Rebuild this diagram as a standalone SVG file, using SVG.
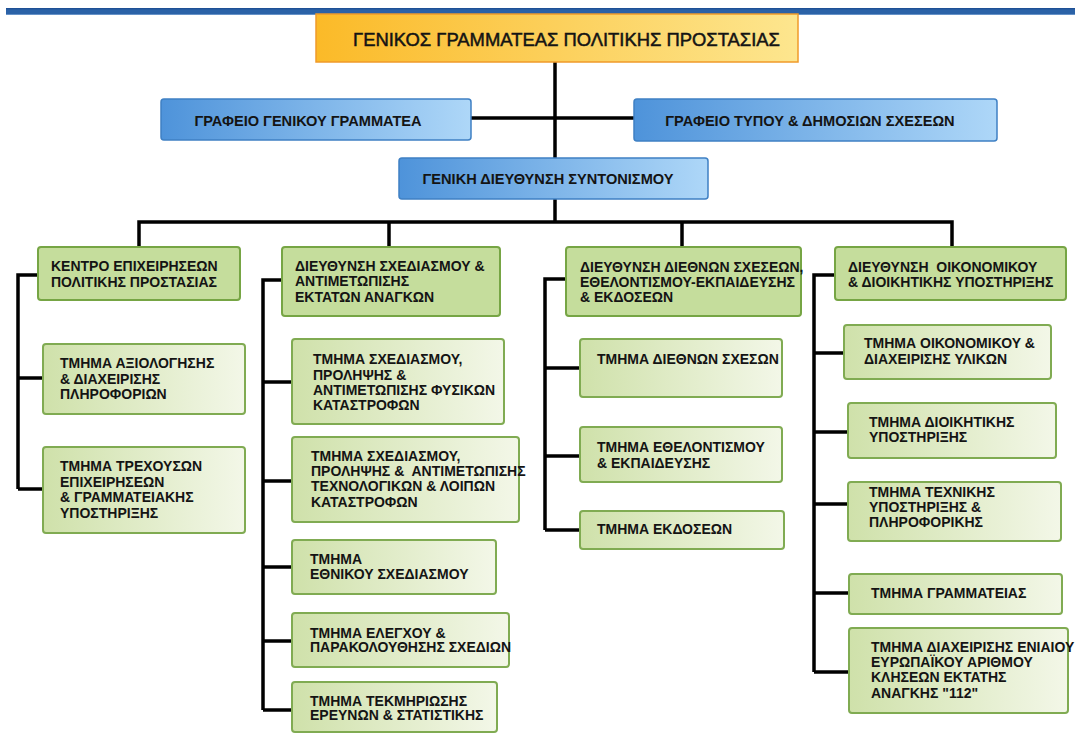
<svg xmlns="http://www.w3.org/2000/svg" width="1075" height="734" viewBox="0 0 1075 734">
<defs>
<linearGradient id="gOrange" x1="0" y1="0" x2="1" y2="0"><stop offset="0" stop-color="#fbba28"/><stop offset="1" stop-color="#fde68f"/></linearGradient>
<linearGradient id="gBlue" x1="0" y1="0" x2="1" y2="0"><stop offset="0" stop-color="#4e93da"/><stop offset="1" stop-color="#aed7f8"/></linearGradient>
<linearGradient id="gGreen" x1="0" y1="0" x2="1" y2="0"><stop offset="0" stop-color="#cfe1aa"/><stop offset="1" stop-color="#f3f7e8"/></linearGradient>
<linearGradient id="gBar" x1="0" y1="0" x2="0" y2="1"><stop offset="0" stop-color="#1b4b90"/><stop offset="0.3" stop-color="#2b62a7"/><stop offset="0.8" stop-color="#2b62a7"/><stop offset="1" stop-color="#86acd9"/></linearGradient>
</defs>
<style>
.t{font-family:"Liberation Sans",Arial,sans-serif;font-weight:bold;font-size:14px;fill:#141414}
.tb{font-size:14.6px}
.conn path{stroke:#000;fill:none;stroke-width:3.5}
.orange{fill:url(#gOrange);stroke:#f09a2a;stroke-width:1.5}
.blue{fill:url(#gBlue);stroke:#3f80c4;stroke-width:1.5}
.l2{fill:#c5dd9c;stroke:#76a544;stroke-width:2}
.l3{fill:url(#gGreen);stroke:#80ab52;stroke-width:2}
</style>
<rect x="6" y="8" width="1069" height="7" fill="url(#gBar)"/>
<g class="conn" id="connectors">
<path d="M555 62V158"/>
<path d="M471 118H634"/>
<path d="M555 199V222"/>
<path d="M139 247V222H952V247"/>
<path d="M389 222V247"/>
<path d="M682 222V247"/>
<path d="M38 275H18V489"/>
<path d="M18 378H43"/>
<path d="M18 489H43"/>
<path d="M282 280H263V710"/>
<path d="M263 382H292"/>
<path d="M263 481H292"/>
<path d="M263 567H292"/>
<path d="M263 641H292"/>
<path d="M263 710H292"/>
<path d="M566 279H545V530"/>
<path d="M545 368H580"/>
<path d="M545 456H580"/>
<path d="M545 530H580"/>
<path d="M835 275H814V672"/>
<path d="M814 353H844"/>
<path d="M814 432H848"/>
<path d="M814 504H848"/>
<path d="M814 593H849"/>
<path d="M814 672H849"/>
</g>
<g id="gen-gram">
<rect class="orange" x="316" y="14" width="482" height="48"/>
<text class="t" x="353" y="46" style="font-weight:normal;font-size:19px;stroke:#141414;stroke-width:0.5" textLength="427" lengthAdjust="spacingAndGlyphs">ΓΕΝΙΚΟΣ ΓΡΑΜΜΑΤΕΑΣ ΠΟΛΙΤΙΚΗΣ ΠΡΟΣΤΑΣΙΑΣ</text>
</g>
<g id="grafeio-gg">
<rect class="blue" x="161" y="99" width="310" height="41" rx="3"/>
<text class="t tb" x="308" y="126" text-anchor="middle">ΓΡΑΦΕΙΟ ΓΕΝΙΚΟΥ ΓΡΑΜΜΑΤΕΑ</text>
</g>
<g id="grafeio-typou">
<rect class="blue" x="634" y="99" width="363" height="42" rx="3"/>
<text class="t tb" x="810" y="126" text-anchor="middle">ΓΡΑΦΕΙΟ ΤΥΠΟΥ &amp; ΔΗΜΟΣΙΩΝ ΣΧΕΣΕΩΝ</text>
</g>
<g id="gen-dieythynsi">
<rect class="blue" x="399" y="158" width="309" height="41" rx="3"/>
<text class="t tb" x="548" y="184" text-anchor="middle">ΓΕΝΙΚΗ ΔΙΕΥΘΥΝΣΗ ΣΥΝΤΟΝΙΣΜΟΥ</text>
</g>
<g id="kentro">
<rect class="l2" x="38" y="247" width="202" height="53" rx="3"/>
<text class="t" x="51" y="271">ΚΕΝΤΡΟ ΕΠΙΧΕΙΡΗΣΕΩΝ</text>
<text class="t" x="51" y="287">ΠΟΛΙΤΙΚΗΣ ΠΡΟΣΤΑΣΙΑΣ</text>
</g>
<g id="dieyth-sxediasmou">
<rect class="l2" x="282" y="247" width="218" height="69" rx="3"/>
<text class="t" x="295" y="271">ΔΙΕΥΘΥΝΣΗ ΣΧΕΔΙΑΣΜΟΥ &amp;</text>
<text class="t" x="295" y="286">ΑΝΤΙΜΕΤΩΠΙΣΗΣ</text>
<text class="t" x="295" y="302">ΕΚΤΑΤΩΝ ΑΝΑΓΚΩΝ</text>
</g>
<g id="dieyth-diethnon">
<rect class="l2" x="566" y="247" width="235" height="69" rx="3"/>
<text class="t" x="580" y="272">ΔΙΕΥΘΥΝΣΗ ΔΙΕΘΝΩΝ ΣΧΕΣΕΩΝ,</text>
<text class="t" x="580" y="287">ΕΘΕΛΟΝΤΙΣΜΟΥ-ΕΚΠΑΙΔΕΥΣΗΣ</text>
<text class="t" x="580" y="302">&amp; ΕΚΔΟΣΕΩΝ</text>
</g>
<g id="dieyth-oikonomikou">
<rect class="l2" x="835" y="247" width="231" height="53" rx="3"/>
<text class="t" x="848" y="272" xml:space="preserve">ΔΙΕΥΘΥΝΣΗ  ΟΙΚΟΝΟΜΙΚΟΥ</text>
<text class="t" x="848" y="287">&amp; ΔΙΟΙΚΗΤΙΚΗΣ ΥΠΟΣΤΗΡΙΞΗΣ</text>
</g>
<g id="tm-axiologisis">
<rect class="l3" x="43" y="344" width="202" height="70" rx="3"/>
<text class="t" x="60" y="368">ΤΜΗΜΑ ΑΞΙΟΛΟΓΗΣΗΣ</text>
<text class="t" x="60" y="384">&amp; ΔΙΑΧΕΙΡΙΣΗΣ</text>
<text class="t" x="60" y="399">ΠΛΗΡΟΦΟΡΙΩΝ</text>
</g>
<g id="tm-trexouson">
<rect class="l3" x="43" y="447" width="202" height="86" rx="3"/>
<text class="t" x="60" y="471">ΤΜΗΜΑ ΤΡΕΧΟΥΣΩΝ</text>
<text class="t" x="60" y="487">ΕΠΙΧΕΙΡΗΣΕΩΝ</text>
<text class="t" x="60" y="502">&amp; ΓΡΑΜΜΑΤΕΙΑΚΗΣ</text>
<text class="t" x="60" y="518">ΥΠΟΣΤΗΡΙΞΗΣ</text>
</g>
<g id="tm-fysikon">
<rect class="l3" x="292" y="339" width="212" height="85" rx="3"/>
<text class="t" x="313" y="364">ΤΜΗΜΑ ΣΧΕΔΙΑΣΜΟΥ,</text>
<text class="t" x="313" y="380">ΠΡΟΛΗΨΗΣ &amp;</text>
<text class="t" x="313" y="395">ΑΝΤΙΜΕΤΩΠΙΣΗΣ ΦΥΣΙΚΩΝ</text>
<text class="t" x="313" y="410">ΚΑΤΑΣΤΡΟΦΩΝ</text>
</g>
<g id="tm-texnologikon">
<rect class="l3" x="292" y="437" width="227" height="85" rx="3"/>
<text class="t" x="311" y="461">ΤΜΗΜΑ ΣΧΕΔΙΑΣΜΟΥ,</text>
<text class="t" x="311" y="476" xml:space="preserve">ΠΡΟΛΗΨΗΣ &amp;  ΑΝΤΙΜΕΤΩΠΙΣΗΣ</text>
<text class="t" x="311" y="491">ΤΕΧΝΟΛΟΓΙΚΩΝ &amp; ΛΟΙΠΩΝ</text>
<text class="t" x="311" y="507">ΚΑΤΑΣΤΡΟΦΩΝ</text>
</g>
<g id="tm-ethnikou">
<rect class="l3" x="292" y="540" width="204" height="54" rx="3"/>
<text class="t" x="310" y="564">ΤΜΗΜΑ</text>
<text class="t" x="310" y="579">ΕΘΝΙΚΟΥ ΣΧΕΔΙΑΣΜΟΥ</text>
</g>
<g id="tm-elegxou">
<rect class="l3" x="292" y="613" width="217" height="54" rx="3"/>
<text class="t" x="310" y="638">ΤΜΗΜΑ ΕΛΕΓΧΟΥ &amp;</text>
<text class="t" x="310" y="652">ΠΑΡΑΚΟΛΟΥΘΗΣΗΣ ΣΧΕΔΙΩΝ</text>
</g>
<g id="tm-tekmiriosis">
<rect class="l3" x="292" y="682" width="205" height="50" rx="3"/>
<text class="t" x="310" y="706">ΤΜΗΜΑ ΤΕΚΜΗΡΙΩΣΗΣ</text>
<text class="t" x="310" y="720">ΕΡΕΥΝΩΝ &amp; ΣΤΑΤΙΣΤΙΚΗΣ</text>
</g>
<g id="tm-diethnon">
<rect class="l3" x="580" y="339" width="202" height="58" rx="3"/>
<text class="t" x="597" y="364">ΤΜΗΜΑ ΔΙΕΘΝΩΝ ΣΧΕΣΩΝ</text>
</g>
<g id="tm-ethelontismou">
<rect class="l3" x="580" y="427" width="202" height="55" rx="3"/>
<text class="t" x="597" y="452">ΤΜΗΜΑ ΕΘΕΛΟΝΤΙΣΜΟΥ</text>
<text class="t" x="597" y="468">&amp; ΕΚΠΑΙΔΕΥΣΗΣ</text>
</g>
<g id="tm-ekdoseon">
<rect class="l3" x="580" y="511" width="204" height="38" rx="3"/>
<text class="t" x="597" y="534">ΤΜΗΜΑ ΕΚΔΟΣΕΩΝ</text>
</g>
<g id="tm-oikonomikou">
<rect class="l3" x="844" y="325" width="207" height="54" rx="3"/>
<text class="t" x="864" y="348">ΤΜΗΜΑ ΟΙΚΟΝΟΜΙΚΟΥ &amp;</text>
<text class="t" x="864" y="364">ΔΙΑΧΕΙΡΙΣΗΣ ΥΛΙΚΩΝ</text>
</g>
<g id="tm-dioikitikis">
<rect class="l3" x="848" y="403" width="208" height="55" rx="3"/>
<text class="t" x="869" y="427">ΤΜΗΜΑ ΔΙΟΙΚΗΤΙΚΗΣ</text>
<text class="t" x="869" y="442">ΥΠΟΣΤΗΡΙΞΗΣ</text>
</g>
<g id="tm-texnikis">
<rect class="l3" x="848" y="482" width="213" height="59" rx="3"/>
<text class="t" x="869" y="497">ΤΜΗΜΑ ΤΕΧΝΙΚΗΣ</text>
<text class="t" x="869" y="512">ΥΠΟΣΤΗΡΙΞΗΣ &amp;</text>
<text class="t" x="869" y="527">ΠΛΗΡΟΦΟΡΙΚΗΣ</text>
</g>
<g id="tm-grammateias">
<rect class="l3" x="849" y="574" width="213" height="40" rx="3"/>
<text class="t" x="871" y="598">ΤΜΗΜΑ ΓΡΑΜΜΑΤΕΙΑΣ</text>
</g>
<g id="tm-112">
<rect class="l3" x="849" y="628" width="219" height="85" rx="3"/>
<text class="t" x="871" y="652">ΤΜΗΜΑ ΔΙΑΧΕΙΡΙΣΗΣ ΕΝΙΑΙΟΥ</text>
<text class="t" x="871" y="667">ΕΥΡΩΠΑΪΚΟΥ ΑΡΙΘΜΟΥ</text>
<text class="t" x="871" y="682">ΚΛΗΣΕΩΝ ΕΚΤΑΤΗΣ</text>
<text class="t" x="871" y="698">ΑΝΑΓΚΗΣ "112"</text>
</g>
</svg>
